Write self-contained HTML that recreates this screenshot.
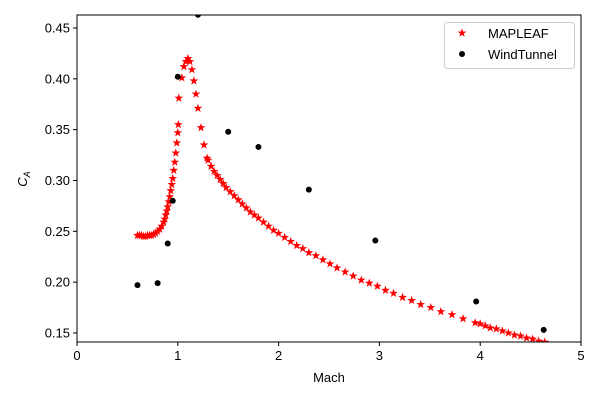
<!DOCTYPE html>
<html><head><meta charset="utf-8"><style>
body{margin:0;background:#fff;}
svg{display:block;font-family:"Liberation Sans","DejaVu Sans",sans-serif;}
</style></head><body>
<svg id="chart" width="600" height="400"></svg>
<script>
const mapleafX=[0.60,0.62,0.64,0.66,0.68,0.70,0.72,0.74,0.76,0.78,0.80,0.82,0.84,0.86,0.87,0.88,0.89,0.90,0.91,0.92,0.93,0.94,0.95,0.96,0.97,0.98,0.99,1.00,1.005,1.01,1.04,1.06,1.08,1.10,1.12,1.14,1.16,1.18,1.20,1.23,1.26,1.29,1.30,1.33,1.36,1.39,1.42,1.45,1.48,1.52,1.56,1.60,1.64,1.68,1.72,1.76,1.80,1.85,1.90,1.95,2.00,2.06,2.12,2.18,2.24,2.30,2.37,2.44,2.51,2.58,2.66,2.74,2.82,2.90,2.98,3.06,3.14,3.23,3.32,3.41,3.51,3.61,3.72,3.83,3.95,4.00,4.05,4.10,4.16,4.22,4.28,4.34,4.40,4.46,4.52,4.58,4.64];
const mapleafY=[0.246,0.246,0.246,0.245,0.245,0.246,0.246,0.246,0.247,0.248,0.250,0.252,0.255,0.259,0.262,0.266,0.270,0.274,0.279,0.284,0.290,0.296,0.302,0.310,0.318,0.327,0.337,0.347,0.355,0.381,0.401,0.412,0.417,0.420,0.417,0.409,0.398,0.385,0.371,0.352,0.335,0.322,0.320,0.314,0.309,0.305,0.301,0.297,0.293,0.289,0.285,0.281,0.277,0.273,0.269,0.266,0.263,0.259,0.255,0.251,0.248,0.244,0.240,0.236,0.233,0.229,0.226,0.222,0.218,0.214,0.210,0.206,0.202,0.199,0.196,0.192,0.189,0.185,0.182,0.178,0.175,0.171,0.168,0.164,0.160,0.159,0.157,0.155,0.154,0.152,0.150,0.148,0.147,0.145,0.144,0.142,0.141];
const windX=[0.6,0.8,0.9,0.95,1.0,1.2,1.5,1.8,2.3,2.96,3.96,4.63];
const windY=[0.197,0.199,0.238,0.280,0.402,0.463,0.348,0.333,0.291,0.241,0.181,0.153];
const xTicks=[0,1,2,3,4,5];
const yTicks=[0.15,0.20,0.25,0.30,0.35,0.40,0.45];
const NS="http://www.w3.org/2000/svg";
const svg=document.getElementById('chart');
const L=77,R=581,T=15,B=342,xmin=0,xmax=5,ymin=0.1411,ymax=0.4628;
const sx=v=>L+(v-xmin)/(xmax-xmin)*(R-L);
const sy=v=>B-(v-ymin)/(ymax-ymin)*(B-T);
function mk(tag,attrs,parent){const e=document.createElementNS(NS,tag);for(const k in attrs)e.setAttribute(k,attrs[k]);(parent||svg).appendChild(e);return e;}
function star(cx,cy,r){let p=[];for(let i=0;i<10;i++){const a=-Math.PI/2+i*Math.PI/5;const rr=i%2?r*0.4:r;p.push((cx+rr*Math.cos(a)).toFixed(2)+','+(cy+rr*Math.sin(a)).toFixed(2));}return p.join(' ');}
const clip=mk('clipPath',{id:'pc'});mk('rect',{x:L,y:T,width:R-L,height:B-T},clip);
const gM=mk('g',{'clip-path':'url(#pc)'});


mapleafX.forEach((x,i)=>{const s=mk('polygon',{points:star(sx(x),sy(mapleafY[i]),4.6),fill:'#ff0000'},gM);

});
const gW=mk('g',{'clip-path':'url(#pc)'});


windX.forEach((x,i)=>{const c=mk('circle',{cx:sx(x),cy:sy(windY[i]),r:3,fill:'#000'},gW);

});
const frame=mk('rect',{x:L,y:T,width:R-L,height:B-T,fill:'none',stroke:'#000','stroke-width':1});


xTicks.forEach(t=>{const x=sx(t);mk('line',{x1:x,x2:x,y1:B,y2:B+4,stroke:'#000'});
const tx=mk('text',{x:x,y:B+18,'text-anchor':'middle','font-size':13,fill:'#000'});tx.textContent=t;

});
yTicks.forEach(t=>{const y=sy(t);mk('line',{x1:L-4,x2:L,y1:y,y2:y,stroke:'#000'});
const tx=mk('text',{x:L-7,y:y+4.5,'text-anchor':'end','font-size':13,fill:'#000'});tx.textContent=t.toFixed(2);

});
</script>
<svg style="position:absolute;left:0;top:0" width="600" height="400">
<text x="329" y="382" text-anchor="middle" font-size="13" font-family="Liberation Sans, sans-serif">Mach</text>
<text transform="translate(27,179) rotate(-90)" text-anchor="middle" font-size="13" font-family="Liberation Sans, sans-serif"><tspan font-style="italic">C</tspan><tspan font-size="9" dy="3" font-style="italic">A</tspan></text>
<g>
<rect x="444.5" y="22.5" width="130" height="46" rx="3" fill="#fff" fill-opacity="0.8" stroke="#ccc"/>
<polygon points="462,28.4 463.08,31.51 466.38,31.58 463.75,33.59 464.70,36.74 462,34.86 459.30,36.74 460.25,33.59 457.62,31.58 460.92,31.51" fill="#ff0000"/>
<text x="488" y="38" font-size="13" font-family="Liberation Sans, sans-serif">MAPLEAF</text>
<circle cx="462" cy="54" r="3" fill="#000"/>
<text x="488" y="59" font-size="13" font-family="Liberation Sans, sans-serif">WindTunnel</text>
</g>
</svg>
</body></html>
